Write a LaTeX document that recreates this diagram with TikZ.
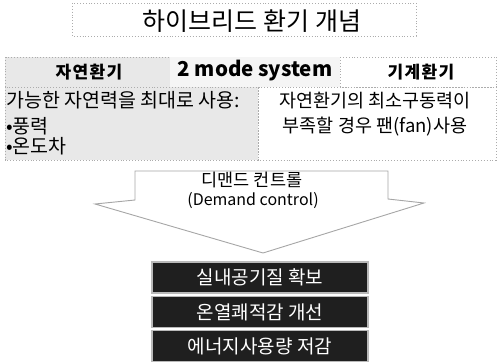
\documentclass[tikz,border=0pt]{standalone}
\usepackage{fontspec}
\setmainfont{Noto Sans CJK KR}
\begin{document}
\begin{tikzpicture}[x=1pt,y=-1pt,
  dotbox/.style={draw=gray!65, dotted, line width=0.9pt},
  lbl/.style={inner sep=0pt, font=\fontsize{18.5}{21}\selectfont},
  hdr/.style={inner sep=0pt, font=\fontsize{17}{20}\selectfont\bfseries\addfontfeatures{LetterSpace=8}},
  arrowline/.style={draw=gray!70, line width=0.9pt, fill=white},
  darkbox/.style={fill=black!88, draw=gray!55, line width=1.2pt, text=white,
    minimum width=216pt, minimum height=31pt, inner sep=0pt,
    font=\fontsize{19}{22}\selectfont}]
\useasboundingbox (0,0) rectangle (498,363);
% title
\draw[dotbox] (72,3) rectangle (416,36);
\node[inner sep=0pt, font=\fontsize{25}{29}\selectfont] (title) at (252,21) {하이브리드 환기 개념};
% header row
\fill[gray!18] (5,57) rectangle (170,87);
\draw[dotbox] (5,57) rectangle (170,87);
\fill[gray!8] (170,57) rectangle (340,87);
\draw[dotbox] (340,57) rectangle (496,87);
\node[hdr] (nat) at (89,72) {자연환기};
\node[inner sep=0pt, font=\fontsize{20.5}{23}\selectfont\bfseries] (mode) at (255,71) {2 mode system};
\node[hdr] (mech) at (421,72) {기계환기};
% content row
\fill[gray!18] (5,87) rectangle (258,160);
\draw[dotbox] (5,87) rectangle (258,160);
\draw[dotbox] (258,87) rectangle (496,160);
\node[lbl, font=\fontsize{19.5}{22}\selectfont, anchor=west] (use) at (6,100) {가능한 자연력을 최대로 사용:};
\node[lbl, font=\fontsize{19.5}{22}\selectfont, anchor=west] (wind) at (6,126) {•풍력};
\node[lbl, font=\fontsize{19.5}{22}\selectfont, anchor=west] (temp) at (6,146) {•온도차};
\node[lbl] (min) at (375,101) {자연환기의 최소구동력이};
\node[lbl] (fan) at (375,127) {부족할 경우 팬(fan)사용};
% arrow
\path[arrowline] (135,171) -- (388,171) -- (388,199) -- (424,203) -- (263,253)
  -- (95,204) -- (135,200) -- cycle;
\node[lbl, font=\fontsize{17.5}{20}\selectfont] (dc1) at (252,180) {디맨드 컨트롤};
\node[lbl, font=\fontsize{16}{19}\selectfont] (dc2) at (253,201) {(Demand control)};
% results
\node[darkbox] (q1) at (260,277.5) {실내공기질 확보};
\node[darkbox] (q2) at (260,312) {온열쾌적감 개선};
\node[darkbox] (q3) at (260,346) {에너지사용량 저감};
\end{tikzpicture}
\end{document}
